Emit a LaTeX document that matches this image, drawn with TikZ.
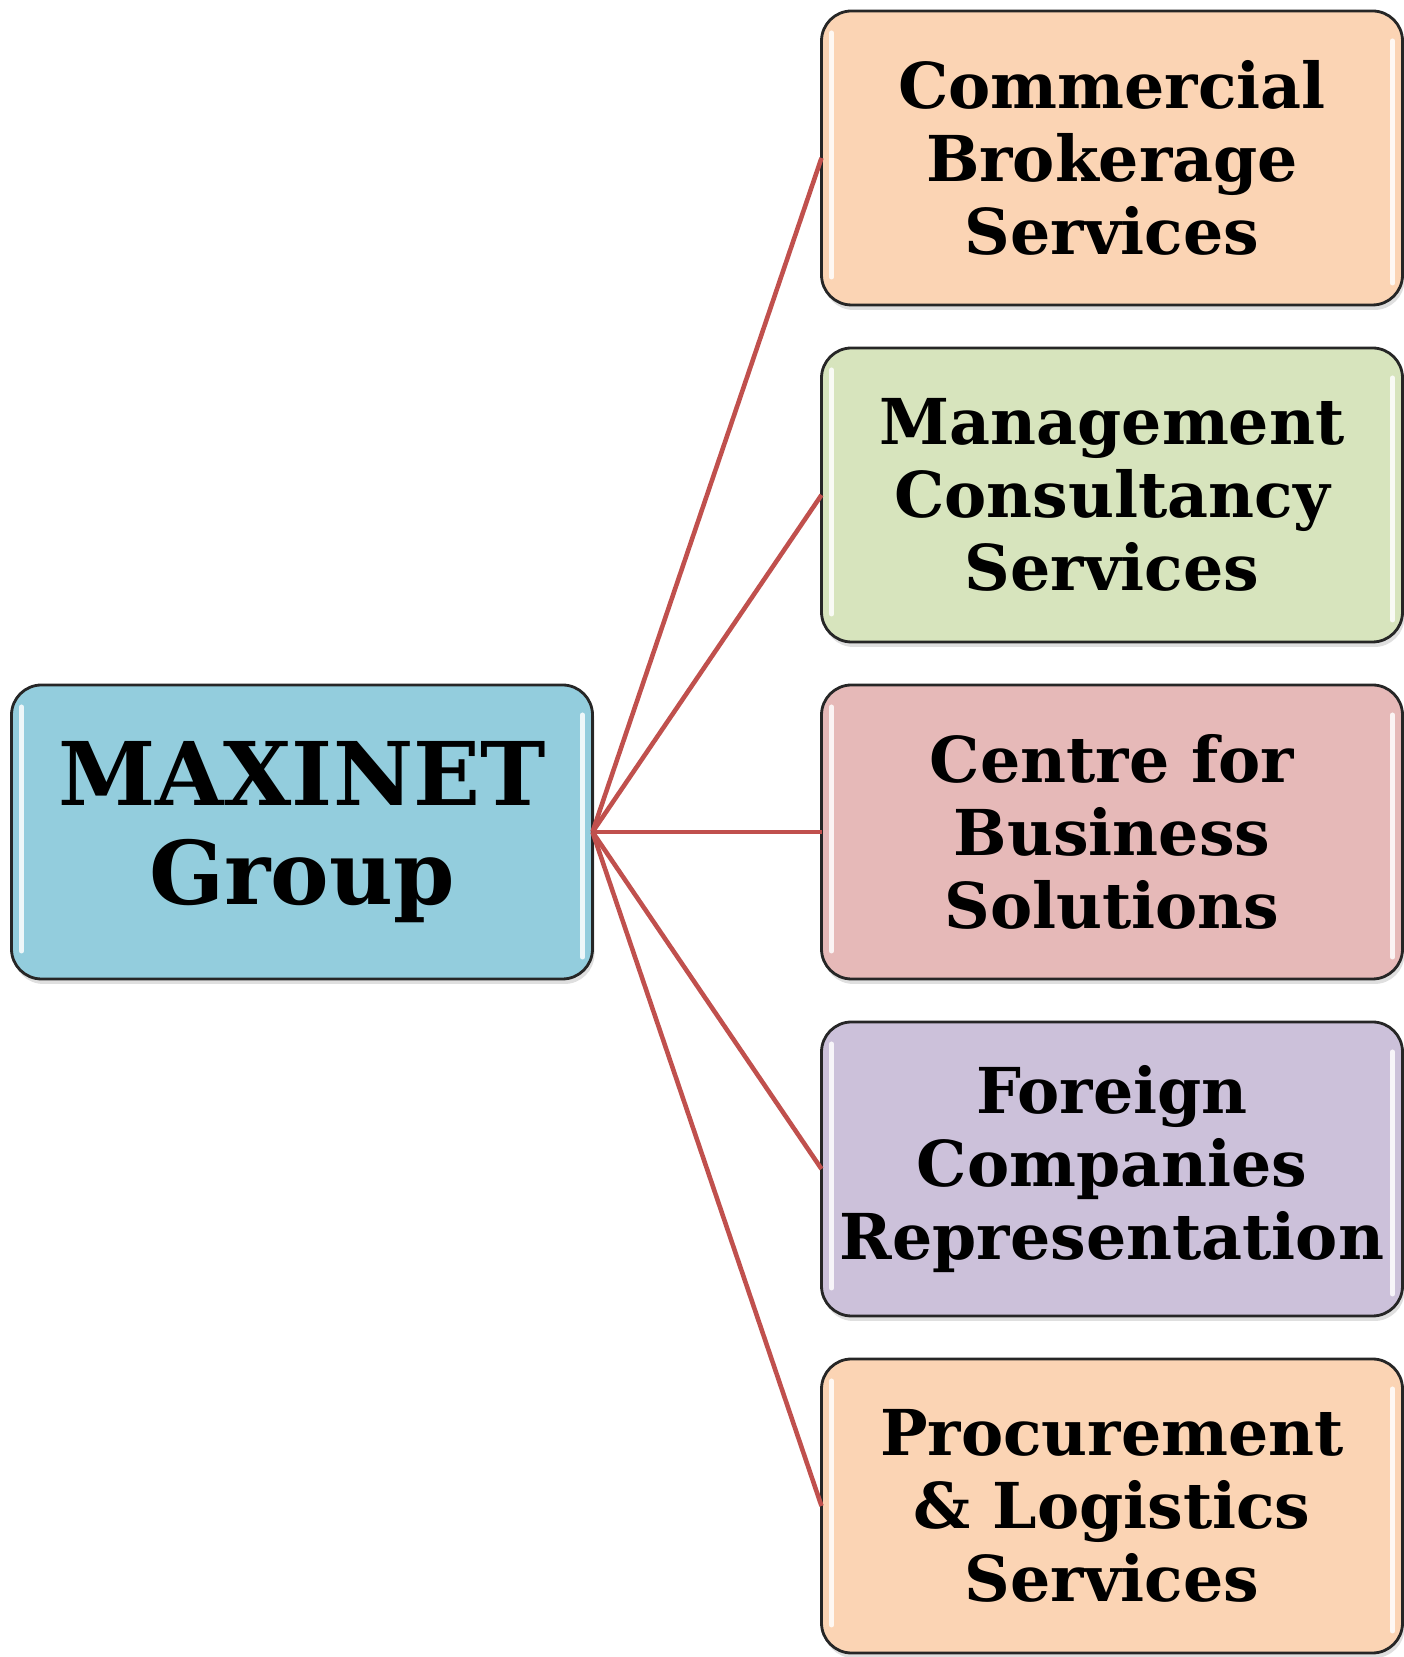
\documentclass[tikz,border=0pt]{standalone}
\usepackage{fontspec}
\setmainfont{DejaVu Serif}
\usetikzlibrary{positioning,shadows}

\definecolor{maxblue}{HTML}{93CDDD}
\definecolor{peach}{HTML}{FBD4B4}
\definecolor{sage}{HTML}{D7E4BD}
\definecolor{rose}{HTML}{E6B9B8}
\definecolor{lilac}{HTML}{CCC1DA}
\definecolor{linkred}{HTML}{C0504D}

\tikzset{
  box/.style={draw=black!85, line width=0.8pt, rounded corners=0.3cm, outer sep=0pt,
    minimum width=5.81cm, minimum height=2.94cm, align=center, inner sep=0pt,
    font=\fontsize{18}{20.7}\selectfont\bfseries,
    drop shadow={shadow xshift=0.02cm, shadow yshift=-0.05cm, opacity=0.25}},
  head/.style={box, font=\fontsize{25}{28}\selectfont\bfseries},
  link/.style={draw=linkred, line width=1.3pt},
  gloss/.style={white, opacity=0.85, line width=0.05cm, line cap=round}
}

\begin{document}
\begin{tikzpicture}
\useasboundingbox (0,0) rectangle (14.04,16.57);

\node[box, fill=peach] (cbs) at (11.12,14.99) {Commercial\\Brokerage\\Services};
\node[box, fill=sage, below=0.43 of cbs] (mcs) {Management\\Consultancy\\Services};
\node[box, fill=rose, below=0.43 of mcs] (cbsol) {Centre for\\Business\\Solutions};
\node[box, fill=lilac, below=0.43 of cbsol] (fcr) {Foreign\\Companies\\Representation};
\node[box, fill=peach, below=0.43 of fcr] (pls) {Procurement\\\& Logistics\\Services};
\node[head, fill=maxblue, left=2.29 of cbsol] (mg) {MAXINET\\Group};

% highlights along the inner sides
\foreach \n in {mg,cbs,mcs,cbsol,fcr,pls}{
  \draw[gloss] ([xshift=0.1cm,yshift=-0.22cm]\n.north west) -- ([xshift=0.1cm,yshift=0.28cm]\n.south west);
  \draw[gloss] ([xshift=-0.1cm,yshift=-0.3cm]\n.north east) -- ([xshift=-0.1cm,yshift=0.22cm]\n.south east);
}

\path[link]
(mg.east) edge (cbs.west) edge (mcs.west) edge (cbsol.west) edge (fcr.west) edge (pls.west);
\end{tikzpicture}
\end{document}
